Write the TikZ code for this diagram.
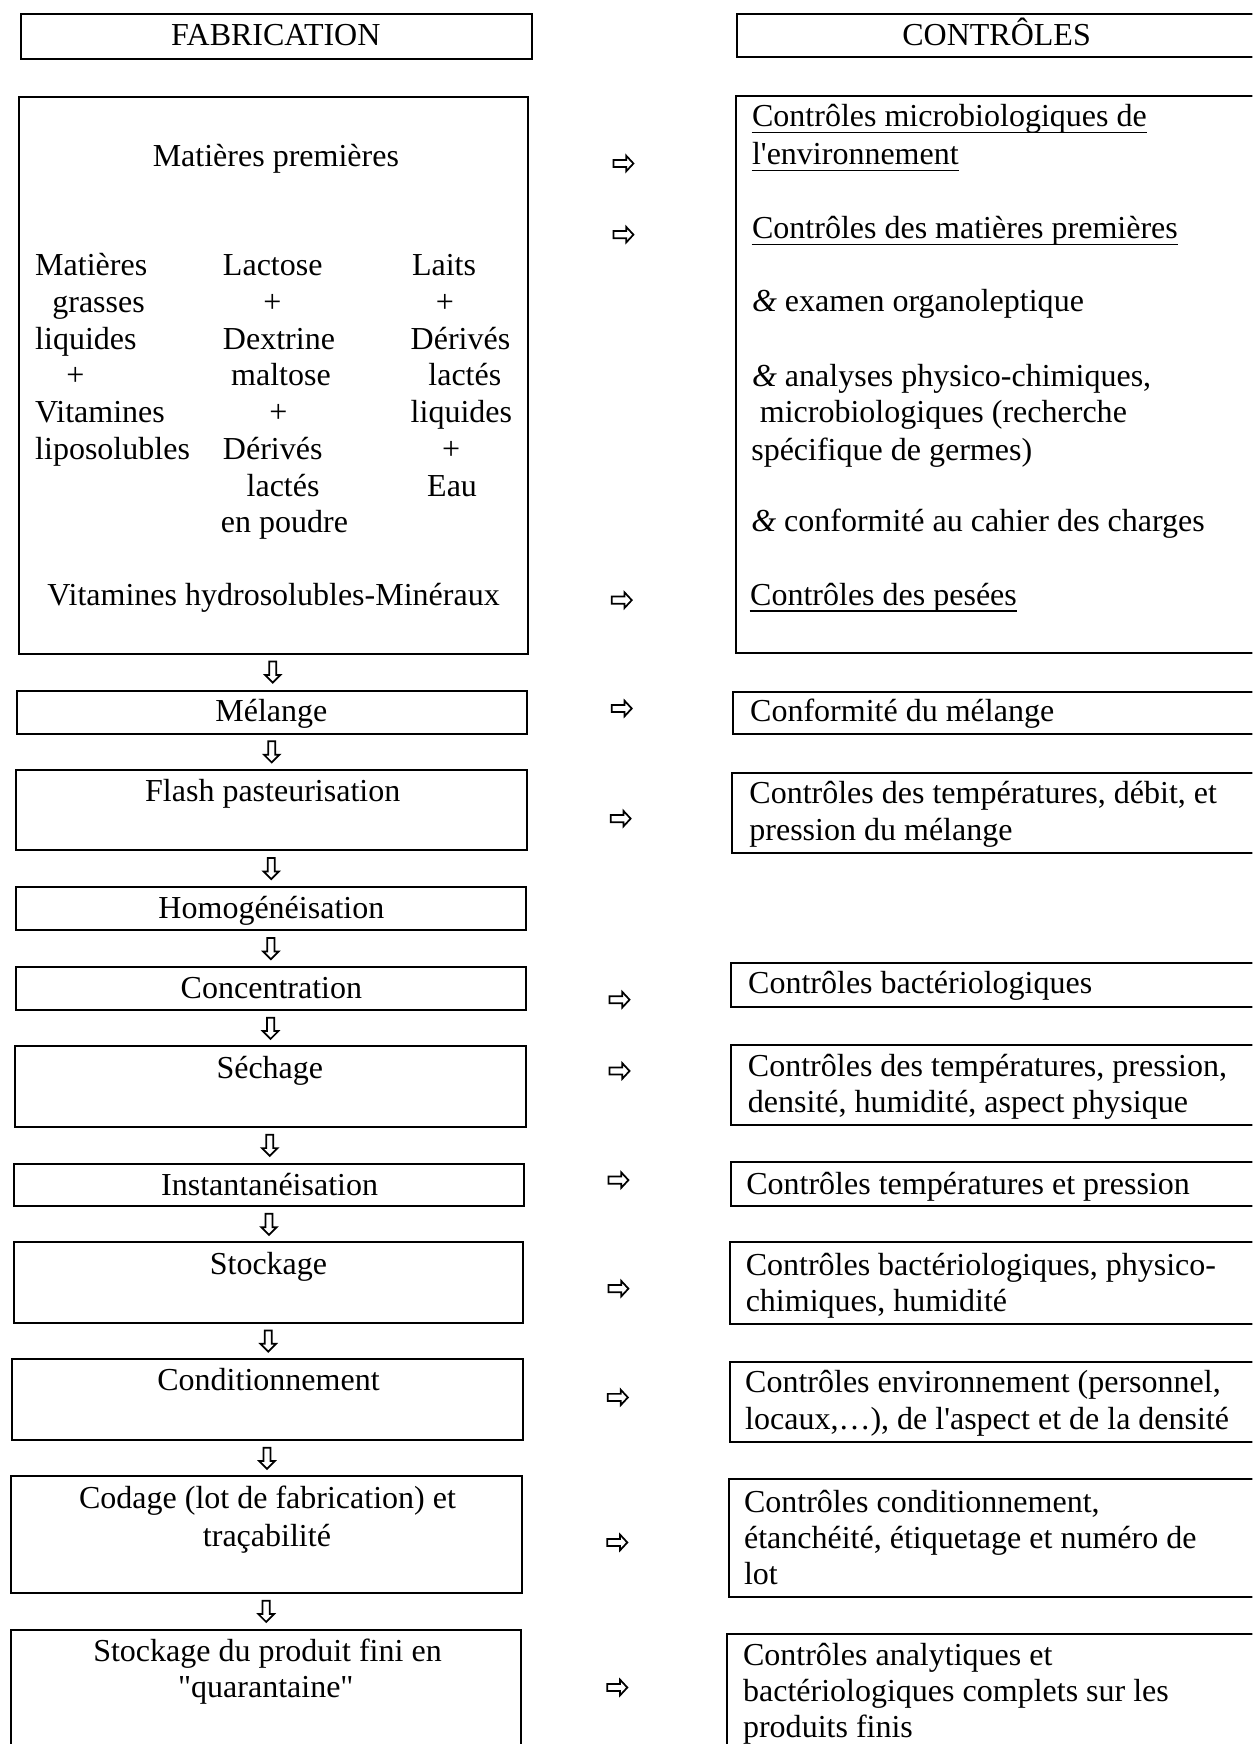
\documentclass[tikz,border=0pt]{standalone}
\usepackage{fontspec}
\setmainfont{Liberation Serif}
\newfontfamily\rawserif{Liberation Serif}
\usetikzlibrary{fit,calc}
\begin{document}
\begin{tikzpicture}[x=0.417pt,y=-0.417pt,
  box/.style={draw, line width=0.75pt, inner sep=0pt},
  txt/.style={inner sep=0pt, font=\rawserif\fontsize{12}{13.8}\selectfont},
  tl/.style={txt, anchor=base west},
  tc/.style={txt, anchor=base},
  arrline/.style={line width=0.65pt, line join=miter},
  rarr/.pic={\draw[arrline] (-9,-3.2) -- (2.5,-3.2) -- (2.5,-7) -- (9,0) -- (2.5,7) -- (2.5,3.2) -- (-9,3.2) -- cycle;},
  darr/.pic={\draw[arrline] (-3.2,-9.5) -- (3.2,-9.5) -- (3.2,2.5) -- (7,2.5) -- (0,9.5) -- (-7,2.5) -- (-3.2,2.5) -- cycle;}
]
\useasboundingbox (0,0) rectangle (1126,1568);
\fill[white] (0,0) rectangle (1126,1568);
\clip (0,0) rectangle (1126,1568);

% ---------- headers ----------
\node[box, fit={(19,12.6) (478,53)}] (hfab) {};
\node[tc] (tfab) at (248,40.5) {FABRICATION};
\node[box, fit={(662.7,12.6) (1140,51.6)}] (hctl) {};
\node[tc] (tctl) at (896,40.5) {CONTRÔLES};

% ---------- left column boxes ----------
\node[box, fit={(17,87) (475,587.6)}] (lmp) {};
\node[box, fit={(15.4,621) (473.5,659.5)}] (lmel) {};
\node[box, fit={(14.7,692.5) (473.5,764.5)}] (lfla) {};
\node[box, fit={(14.3,797.4) (473,836.4)}] (lhom) {};
\node[box, fit={(14,869.4) (473,908.4)}] (lcon) {};
\node[box, fit={(13.6,940.7) (472.5,1013.3)}] (lsec) {};
\node[box, fit={(12.9,1046.2) (471,1084.6)}] (lins) {};
\node[box, fit={(12.9,1117) (470.6,1189.2)}] (lsto) {};
\node[box, fit={(11,1222.2) (470,1294.9)}] (lcnd) {};
\node[box, fit={(10.3,1327.3) (469,1432.2)}] (lcod) {};
\node[box, fit={(9.9,1465.2) (468,1600)}] (lfin) {};

% matières premières content
\node[tc] (mp) at (248,150) {Matières premières};
\node[tl] (c1a) at (31.2,248) {Matières};
\node[tl] (c1b) at (46.6,281) {grasses};
\node[tl] (c1c) at (31.2,314) {liquides};
\node[tc] (c1d) at (67.9,347) {+};
\node[tl] (c1e) at (31.2,380) {Vitamines};
\node[tl] (c1f) at (31.2,413) {liposolubles};
\node[tl] (c2a) at (200,248) {Lactose};
\node[tc] (c2b) at (244.8,281) {+};
\node[tl] (c2c) at (200,314) {Dextrine};
\node[tl] (c2d) at (207.4,347) {maltose};
\node[tc] (c2e) at (250.4,380) {+};
\node[tl] (c2f) at (200,413) {Dérivés};
\node[tl] (c2g) at (221.3,446) {lactés};
\node[tl] (c2h) at (198.2,479) {en poudre};
\node[tl] (c3a) at (370,248) {Laits};
\node[tc] (c3b) at (400.1,281) {+};
\node[tl] (c3c) at (368.8,314) {Dérivés};
\node[tl] (c3d) at (384.7,347) {lactés};
\node[tl] (c3e) at (368.8,380) {liquides};
\node[tc] (c3f) at (405.6,413) {+};
\node[tl] (c3g) at (383.6,446) {Eau};
\node[tc] (vhm) at (246,544) {Vitamines hydrosolubles-Minéraux};

% step texts
\node[tc] (tmel) at (244,649) {Mélange};
\node[tc] (tfla) at (245.2,721) {Flash pasteurisation};
\node[tc] (thom) at (244,826) {Homogénéisation};
\node[tc] (tcon) at (244,898) {Concentration};
\node[tc] (tsec) at (242.6,970) {Séchage};
\node[tc] (tins) at (242.4,1074.5) {Instantanéisation};
\node[tc] (tsto) at (241.4,1146) {Stockage};
\node[tc] (tcnd) at (241.4,1250.6) {Conditionnement};
\node[tc] (tcoda) at (240.5,1356.3) {Codage (lot de fabrication) et};
\node[tc] (tcodb) at (240,1390) {traçabilité};
\node[tc] (tfina) at (240.5,1494) {Stockage du produit fini en};
\node[tc] (tfinb) at (239,1526.5) {"quarantaine"};

% down arrows between steps
\pic (d1) at ($(lmp.south)!0.5!(lmel.north)$) {darr};
\pic (d2) at ($(lmel.south)!0.5!(lfla.north)$) {darr};
\pic (d3) at ($(lfla.south)!0.5!(lhom.north)$) {darr};
\pic (d4) at ($(lhom.south)!0.5!(lcon.north)$) {darr};
\pic (d5) at ($(lcon.south)!0.5!(lsec.north)$) {darr};
\pic (d6) at ($(lsec.south)!0.5!(lins.north)$) {darr};
\pic (d7) at ($(lins.south)!0.5!(lsto.north)$) {darr};
\pic (d8) at ($(lsto.south)!0.5!(lcnd.north)$) {darr};
\pic (d9) at ($(lcnd.south)!0.5!(lcod.north)$) {darr};
\pic (d10) at ($(lcod.south)!0.5!(lfin.north)$) {darr};

% ---------- right column boxes ----------
\node[box, fit={(662,86) (1140,587.4)}] (rmp) {};
\node[box, fit={(659,622) (1140,660)}] (rmel) {};
\node[box, fit={(658.2,694.9) (1140,766.9)}] (rdeb) {};
\node[box, fit={(657.6,865.8) (1140,905.4)}] (rbac) {};
\node[box, fit={(657.6,939.8) (1140,1011.2)}] (rsec) {};
\node[box, fit={(657,1045.1) (1140,1084.6)}] (rins) {};
\node[box, fit={(656.6,1117) (1140,1190.3)}] (rsto) {};
\node[box, fit={(656,1224.4) (1140,1296.6)}] (rcnd) {};
\node[box, fit={(655,1330) (1140,1435.6)}] (rcod) {};
\node[box, fit={(654,1468.7) (1140,1600)}] (rfin) {};

% right texts
\node[tl] (r1a) at (675.7,114) {Contrôles microbiologiques de};
\node[tl] (r1b) at (675.7,148) {l'environnement};
\node[tl] (r2) at (675.7,214.4) {Contrôles des matières premières};
\node[tl] (r3) at (675.7,280.3) {\textit{\&} examen organoleptique};
\node[tl] (r4a) at (675.7,347.5) {\textit{\&} analyses physico-chimiques,};
\node[tl] (r4b) at (682.7,380) {microbiologiques (recherche};
\node[tl] (r4c) at (675,413.7) {spécifique de germes)};
\node[tl] (r5) at (675,478.2) {\textit{\&} conformité au cahier des charges};
\node[tl] (r6) at (674,544.1) {Contrôles des pesées};
\foreach \n in {r1a,r1b,r2,r6}
  \draw[line width=0.6pt] ([yshift=-2.2pt]\n.base west) -- ([yshift=-2.2pt]\n.base east);

\node[tl] (rm) at (674,649) {Conformité du mélange};
\node[tl] (rda) at (673.3,722.5) {Contrôles des températures, débit, et};
\node[tl] (rdb) at (673.3,755.5) {pression du mélange};
\node[tl] (rb) at (672.2,893.4) {Contrôles bactériologiques};
\node[tl] (rsa) at (672,967.7) {Contrôles des températures, pression,};
\node[tl] (rsb) at (672,999.8) {densité, humidité, aspect physique};
\node[tl] (ri) at (670.5,1073.5) {Contrôles températures et pression};
\node[tl] (rta) at (670,1146.6) {Contrôles bactériologiques, physico-};
\node[tl] (rtb) at (670,1179) {chimiques, humidité};
\node[tl] (rca) at (669.5,1252.3) {Contrôles environnement (personnel,};
\node[tl] (rcb) at (669.5,1285) {locaux,\ldots), de l'aspect et de la densité};
\node[tl] (rka) at (668.5,1359.6) {Contrôles conditionnement,};
\node[tl] (rkb) at (668.5,1392) {étanchéité, étiquetage et numéro de};
\node[tl] (rkc) at (668.5,1424.3) {lot};
\node[tl] (rfa) at (667.6,1497.6) {Contrôles analytiques et};
\node[tl] (rfb) at (667.6,1530) {bactériologiques complets sur les};
\node[tl] (rfc) at (667.6,1562.3) {produits finis};

% right arrows
\pic (a1) at (560.5,147) {rarr};
\pic (a2) at (560.5,211) {rarr};
\pic (a3) at (559,539.6) {rarr};
\pic (a4) at (559,637) {rarr};
\pic (a5) at (558,736) {rarr};
\pic (a6) at (557,898.8) {rarr};
\pic (a7) at (557,962.9) {rarr};
\pic (a8) at (556,1061) {rarr};
\pic (a9) at (556,1158.6) {rarr};
\pic (a10) at (555.5,1256.4) {rarr};
\pic (a11) at (555,1386.8) {rarr};
\pic (a12) at (555,1517.2) {rarr};
\end{tikzpicture}
\end{document}
